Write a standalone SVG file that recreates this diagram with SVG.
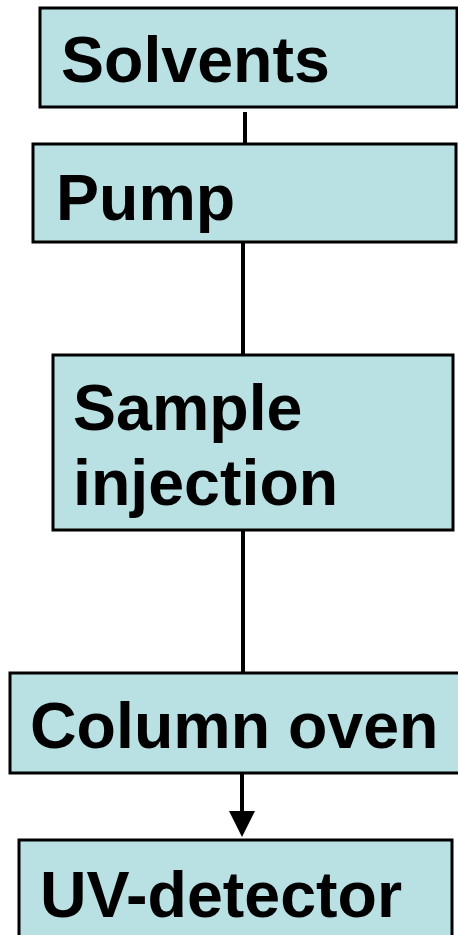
<svg xmlns="http://www.w3.org/2000/svg" width="458" height="935" viewBox="0 0 458 935">
<style>
.box{fill:#B9E0E3;stroke:#000;stroke-width:3}
.lbl{font-family:"Liberation Sans",Arial,sans-serif;font-weight:bold;font-size:64.5px;fill:#000}
.con{stroke:#000;stroke-width:4;fill:none}
</style>
<rect width="458" height="935" fill="#fff"/>
<g id="connectors">
<line class="con" x1="245" y1="112" x2="245" y2="144"/>
<line class="con" x1="243" y1="242" x2="243" y2="355"/>
<line class="con" x1="243" y1="530" x2="243" y2="673"/>
<path d="M242,773 V812" class="con"/>
<path d="M229,811 L255,811 L242,837 Z" fill="#000"/>
</g>
<g id="solvents">
<rect class="box" x="40" y="8" width="417" height="99"/>
<text class="lbl" x="61" y="82">Solvents</text>
</g>
<g id="pump">
<rect class="box" x="33" y="144" width="423" height="98"/>
<text class="lbl" x="56" y="220">Pump</text>
</g>
<g id="sample">
<rect class="box" x="53" y="355" width="400" height="175"/>
<text class="lbl" x="73" y="430">Sample</text>
<text class="lbl" x="73" y="505">injection</text>
</g>
<g id="column">
<rect class="box" x="10" y="673" width="450" height="100"/>
<text class="lbl" x="30" y="748">Column oven</text>
</g>
<g id="uv">
<rect class="box" x="19" y="840" width="433" height="100"/>
<text class="lbl" x="40" y="917">UV-detector</text>
</g>
</svg>
